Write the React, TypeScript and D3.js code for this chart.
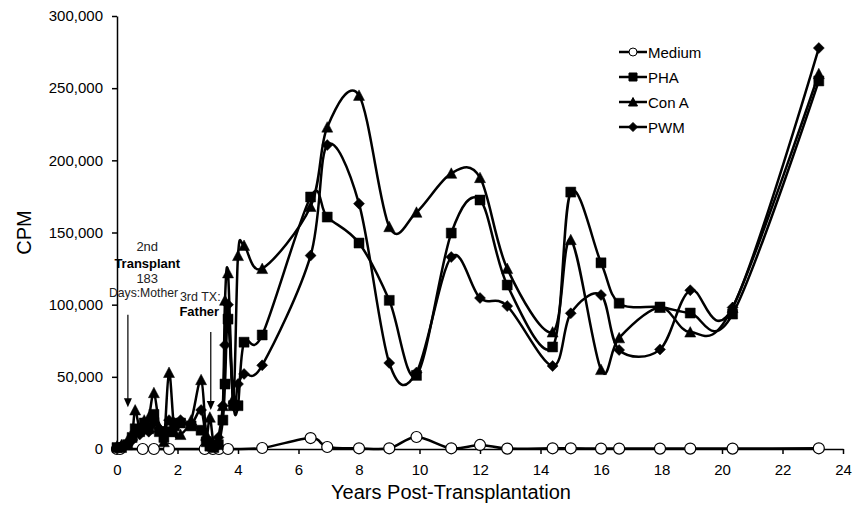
import React, { useEffect, useRef } from 'react';
import * as d3 from 'd3';

// years post-transplant for the stimulated samples (PHA / Con A / PWM)
const years = [
  0, 0.15, 0.35, 0.5, 0.6, 0.75, 0.9, 1.05, 1.22, 1.4, 1.55, 1.72, 1.9, 2.1, 2.45, 2.78, 2.95, 3.07, 3.2, 3.35,
  3.5, 3.57, 3.67, 3.85, 4.0, 4.2, 4.8, 6.4, 6.95, 8.0, 9.0, 9.9, 11.05, 12.0, 12.9, 14.4, 15.0, 16.0, 16.6,
  17.95, 18.95, 20.35, 23.2,
];
const pha = [
  1000, 1000, 3000, 8000, 14000, 12000, 18000, 14000, 24000, 12000, 8000, 12000, 16000, 18000, 16000, 13000,
  5000, 2000, 1000, 3000, 20000, 45000, 90000, 30000, 30000, 74000, 79000, 174600, 160700, 142700, 103000,
  51000, 149600, 172500, 113600, 70700, 178000, 129000, 101000, 98400, 94200, 93500, 255000,
];
const conA = [
  2000, 3000, 6000, 10000, 27000, 14000, 20000, 22000, 39000, 15000, 5000, 53000, 12000, 10000, 20000, 48000,
  10000, 22000, 3000, 5000, 30000, 103000, 122000, 35000, 134000, 141000, 125000, 168000, 223000, 245000,
  154000, 164000, 191000, 188000, 125000, 81000, 145000, 55000, 77000, 98000, 81000, 98000, 260000,
];
const pwm = [
  1000, 2000, 4000, 6000, 12000, 10000, 14000, 12000, 18000, 14000, 12000, 20000, 18000, 20000, 17000, 27000,
  6000, 5000, 2000, 8000, 30000, 72000, 100000, 30000, 45000, 52000, 58000, 134000, 210600, 170000, 59600,
  53000, 133000, 104600, 99000, 57500, 94000, 106700, 68600, 69000, 110000, 98000, 277800,
];

// unstimulated control has its own sampling dates
const mediumYears = [
  0, 0.1, 0.85, 1.22, 1.72, 2.9, 3.17, 3.37, 3.67, 4.8, 6.4, 6.95, 8.0, 9.0, 9.9, 11.05, 12.0, 12.9, 14.4, 15.0,
  16.0, 16.6, 17.95, 18.95, 20.35, 23.2,
];
const medium = [
  0, 0, 0, 0, 0, 0, 0, 0, 0, 700, 7600, 1400, 500, 500, 8300, 500, 2800, 300, 500, 500, 300, 300, 300, 300, 300,
  500,
];

const xTicks = [0, 2, 4, 6, 8, 10, 12, 14, 16, 18, 20, 22, 24];
const yTicks = [0, 50000, 100000, 150000, 200000, 250000, 300000];

const series = [
  { name: 'Medium', xs: mediumYears, ys: medium, marker: 'circle' },
  { name: 'PHA', xs: years, ys: pha, marker: 'square' },
  { name: 'Con A', xs: years, ys: conA, marker: 'triangle' },
  { name: 'PWM', xs: years, ys: pwm, marker: 'diamond' },
];

const FONT = '"Liberation Sans", Arial, sans-serif';

function markerPath(type, s) {
  const h = s / 2;
  if (type === 'square') return `M${-h},${-h}H${h}V${h}H${-h}Z`;
  if (type === 'triangle') return `M0,${-h - 0.5}L${h + 0.5},${h}L${-h - 0.5},${h}Z`;
  if (type === 'diamond') return `M0,${-h - 0.5}L${h + 0.5},0L0,${h + 0.5}L${-h - 0.5},0Z`;
  return d3.arc()({ innerRadius: 0, outerRadius: h, startAngle: 0, endAngle: 2 * Math.PI });
}

export default function App() {
  const svgRef = useRef(null);
  const width = 854;
  const height = 508;
  const margin = { top: 16, right: 11, bottom: 59, left: 117 };

  useEffect(() => {
    const svg = d3.select(svgRef.current);
    svg.selectAll('*').remove();
    svg.attr('width', width).attr('height', height);

    const x = d3.scaleLinear().domain([0, 24]).range([margin.left, width - margin.right]);
    const y = d3.scaleLinear().domain([0, 300000]).range([height - margin.bottom, margin.top]);

    // axes
    const xAxis = svg
      .append('g')
      .attr('transform', `translate(0,${y(0)})`)
      .call(d3.axisBottom(x).tickValues(xTicks).tickSize(5).tickSizeOuter(0).tickPadding(10).tickFormat(d3.format('d')));
    const yAxis = svg
      .append('g')
      .attr('transform', `translate(${x(0)},0)`)
      .call(d3.axisLeft(y).tickValues(yTicks).tickSize(5).tickSizeOuter(0).tickPadding(9).tickFormat(d3.format(',')));
    [xAxis, yAxis].forEach((g) => {
      g.selectAll('path, line').attr('stroke', '#000').attr('stroke-width', 1.5);
      g.selectAll('text').attr('font-family', FONT).attr('font-size', 15).attr('fill', '#000');
    });

    // axis titles
    svg
      .append('text')
      .attr('x', (x(0) + x(24)) / 2 - 29)
      .attr('y', 499)
      .attr('text-anchor', 'middle')
      .attr('font-family', FONT)
      .attr('font-size', 20)
      .text('Years Post-Transplantation');
    svg
      .append('text')
      .attr('transform', `translate(31,${y(150000)}) rotate(-90)`)
      .attr('text-anchor', 'middle')
      .attr('font-family', FONT)
      .attr('font-size', 20)
      .text('CPM');

    // series: smoothed line then markers
    const line = d3.line().curve(d3.curveCatmullRom.alpha(0));
    series.forEach((s) => {
      const pts = s.xs.map((d, i) => [x(d), y(s.ys[i])]);
      svg
        .append('path')
        .attr('d', line(pts))
        .attr('fill', 'none')
        .attr('stroke', '#000')
        .attr('stroke-width', 2.5);
      const size = s.marker === 'circle' ? 11 : 10;
      svg
        .append('g')
        .selectAll('path')
        .data(pts)
        .enter()
        .append('path')
        .attr('transform', (p) => `translate(${p[0]},${p[1]})`)
        .attr('d', markerPath(s.marker, size))
        .attr('fill', s.marker === 'circle' ? '#fff' : '#000')
        .attr('stroke', '#000')
        .attr('stroke-width', s.marker === 'circle' ? 1.2 : 0.5);
    });

    // transplant annotations
    const arrow = (yr, from, to) => {
      const ax = x(yr);
      svg
        .append('line')
        .attr('x1', ax)
        .attr('x2', ax)
        .attr('y1', y(from))
        .attr('y2', y(to) - 6)
        .attr('stroke', '#000')
        .attr('stroke-width', 1.2);
      svg
        .append('path')
        .attr('d', `M${ax - 4},${y(to) - 9}L${ax + 4},${y(to) - 9}L${ax},${y(to)}Z`)
        .attr('fill', '#000');
    };
    arrow(0.36, 93000, 29000);
    arrow(3.1, 81000, 27000);

    const label = (t, cx, cy, bold, size = 13) =>
      svg
        .append('text')
        .attr('x', cx)
        .attr('y', cy)
        .attr('text-anchor', 'middle')
        .attr('dominant-baseline', 'central')
        .attr('font-family', FONT)
        .attr('font-size', size)
        .attr('font-weight', bold ? 'bold' : 'normal')
        .attr('fill', bold ? '#000' : '#222')
        .text(t);
    const ax1 = x(1.0);
    label('2nd', ax1, 246);
    label('Transplant', ax1, 263, true);
    label('183', ax1, 278);
    label('Days:Mother', 143.5, 293, false, 12.2);
    const ax2 = x(2.72);
    label('3rd TX:', ax2 + 1, 297, false, 12.5);
    label('Father', ax2, 311, true);

    // legend
    const lg = svg.append('g').attr('transform', 'translate(619,52)');
    series.forEach((s, i) => {
      const row = lg.append('g').attr('transform', `translate(0,${i * 25})`);
      row.append('line').attr('x1', 0).attr('x2', 28).attr('stroke', '#000').attr('stroke-width', 2.5);
      row
        .append('path')
        .attr('transform', 'translate(14,0)')
        .attr('d', markerPath(s.marker, 8))
        .attr('fill', s.marker === 'circle' ? '#fff' : '#000')
        .attr('stroke', '#000')
        .attr('stroke-width', 1);
      row
        .append('text')
        .attr('x', 29)
        .attr('dominant-baseline', 'central')
        .attr('font-family', FONT)
        .attr('font-size', 15)
        .text(s.name);
    });
  }, []);

  return <svg ref={svgRef} style={{ position: 'absolute', left: 0, top: 0, background: '#fff' }}></svg>;
}
